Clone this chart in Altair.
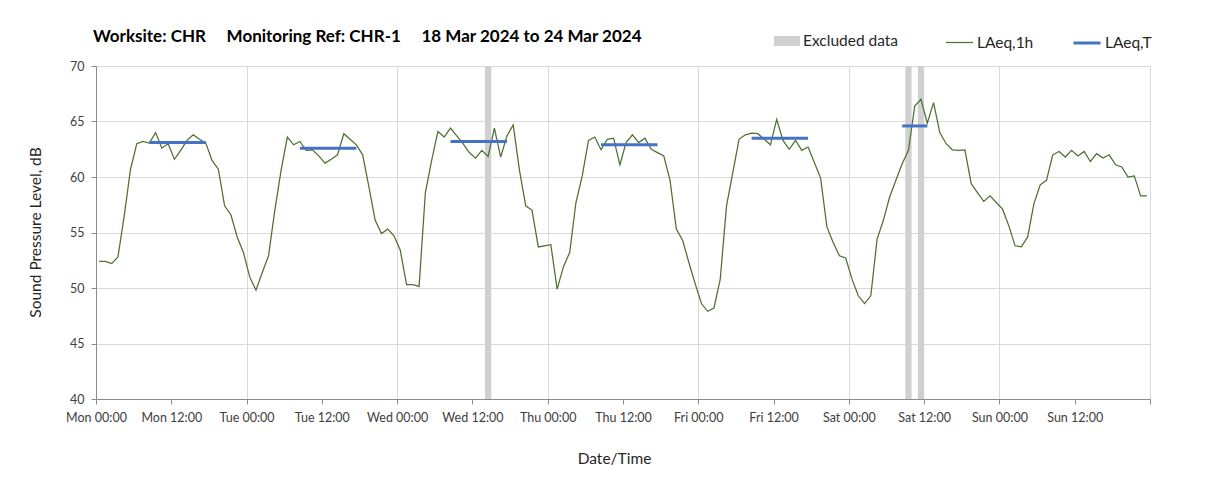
import json
import altair as alt
import pandas as pd

# ---------------- data ----------------
# hourly LAeq,1h values, Mon 18 Mar 2024 00:00 .. Sun 24 Mar 2024 23:00 (168 hours)
LAEQ_1H = [
    # Mon
    52.4, 52.4, 52.2, 52.8, 56.5, 60.7, 63.0, 63.2, 63.05, 64.0, 62.6, 63.0,
    61.6, 62.4, 63.3, 63.8, 63.4, 63.05, 61.5, 60.7, 57.4, 56.6, 54.6, 53.2,
    # Tue
    51.0, 49.8, 51.4, 52.9, 57.0, 60.6, 63.6, 62.9, 63.2, 62.4, 62.45, 61.9,
    61.25, 61.6, 62.0, 63.9, 63.4, 62.9, 62.0, 59.1, 56.1, 54.9, 55.3, 54.7,
    # Wed
    53.4, 50.3, 50.3, 50.15, 58.6, 61.5, 64.1, 63.6, 64.4, 63.7, 63.0, 62.2,
    61.7, 62.4, 61.85, 64.4, 61.8, 63.7, 64.7, 60.6, 57.4, 57.0, 53.7, 53.8,
    # Thu
    53.9, 49.9, 51.9, 53.2, 57.7, 60.1, 63.3, 63.6, 62.45, 63.4, 63.5, 61.1,
    63.1, 63.8, 63.1, 63.5, 62.5, 62.2, 61.9, 59.7, 55.3, 54.3, 52.3, 50.4,
    # Fri
    48.6, 47.9, 48.2, 50.8, 57.4, 60.4, 63.4, 63.8, 63.95, 63.9, 63.4, 62.9,
    65.2, 63.3, 62.5, 63.3, 62.4, 62.7, 61.3, 59.9, 55.5, 54.1, 52.9, 52.7,
    # Sat
    50.8, 49.3, 48.6, 49.3, 54.4, 56.1, 58.2, 59.7, 61.2, 62.4, 66.4, 67.0,
    64.85, 66.7, 64.0, 63.0, 62.45, 62.4, 62.45, 59.4, 58.6, 57.8, 58.3, 57.7,
    # Sun
    57.1, 55.6, 53.8, 53.7, 54.6, 57.6, 59.3, 59.7, 62.0, 62.3, 61.8, 62.4,
    61.9, 62.3, 61.4, 62.1, 61.7, 62.0, 61.1, 60.9, 60.0, 60.1, 58.3, 58.3,
]

# LAeq,T assessment periods (hours from Mon 00:00) and levels
PERIOD_START_H = [8, 32, 56, 80, 104, 128]
PERIOD_END_H = [18, 42, 66, 90, 114, 133]
LAEQ_T = [63.1, 62.6, 63.2, 62.9, 63.5, 64.6]

# excluded hours (start hour from Mon 00:00)
EXCLUDED_H = [62, 129, 131]

TICK_HOURS = list(range(0, 169, 12))
TICK_LABELS = [
    "Mon 00:00", "Mon 12:00", "Tue 00:00", "Tue 12:00", "Wed 00:00", "Wed 12:00",
    "Thu 00:00", "Thu 12:00", "Fri 00:00", "Fri 12:00", "Sat 00:00", "Sat 12:00",
    "Sun 00:00", "Sun 12:00", "",
]
Y_TICKS = [40, 45, 50, 55, 60, 65, 70]

SERIES = ["Excluded data", "LAeq,1h", "LAeq,T"]
COLORS = ["#d0d0d0", "#4e7030", "#4472c4"]

NB = "\u00a0"
TITLE = ("Worksite: CHR" + NB * 5 + "Monitoring Ref: CHR-1" + NB * 5 +
         "18 Mar 2024 to 24 Mar 2024")

# ---------------- tables ----------------
line_df = pd.DataFrame({
    "h": list(range(len(LAEQ_1H))),
    "v": LAEQ_1H,
    "series": SERIES[1],
})
per_df = pd.DataFrame({
    "s": PERIOD_START_H,
    "e": PERIOD_END_H,
    "v": LAEQ_T,
    "series": SERIES[2],
})
exc_df = pd.DataFrame({"h": EXCLUDED_H, "series": SERIES[0]})

FONT = "Lato"
W, H = 1054, 333

xscale = alt.Scale(domain=[0, 168], nice=False, zero=False)
yscale = alt.Scale(domain=[40, 70], nice=False, zero=False)

label_expr = json.dumps(TICK_LABELS) + "[round(datum.value / 12)]"

x_axis = alt.Axis(
    values=TICK_HOURS,
    labelExpr=label_expr,
    title="Date/Time",
    grid=True,
    gridColor="#d9d9d9",
    gridOpacity={"condition": {"test": "datum.value % 24 === 0", "value": 1}, "value": 0},
    tickSize=5,
    tickColor="#8c8c8c",
    domainColor="#8c8c8c",
    labelPadding=7,
    labelFontSize=12.5,
    labelColor="#404040",
    labelFont=FONT,
    labelFlush=False,
    labelOverlap=False,
    titleFont=FONT,
    titleFontSize=15.5,
    titleFontWeight="normal",
    titleColor="#262626",
    titleX=518,
    titleY=64,
    titleBaseline="alphabetic",
    titleAnchor="start",
    titleAlign="center",
)

y_axis = alt.Axis(
    values=Y_TICKS,
    title="Sound Pressure Level, dB",
    grid=True,
    gridColor="#d9d9d9",
    tickSize=5,
    tickColor="#8c8c8c",
    domainColor="#8c8c8c",
    labelPadding=7,
    labelFontSize=12.5,
    labelColor="#404040",
    labelFont=FONT,
    titleFont=FONT,
    titleFontSize=15.5,
    titleFontWeight="normal",
    titleColor="#262626",
    titleX=-61,
    titleY=166,
    titleAngle=270,
    titleAlign="center",
    titleBaseline="middle",
)

legend_common = dict(
    title=None,
    orient="none",
    labelFont=FONT,
    labelFontSize=15.5,
    labelColor="#262626",
    labelOffset=3,
    padding=0,
)

excl = alt.Chart(exc_df).transform_calculate(h2="datum.h + 1").mark_rect(
    opacity=1
).encode(
    x=alt.X("h:Q", scale=xscale, axis=x_axis),
    x2="h2:Q",
    y=alt.YDatum(70, scale=yscale, axis=y_axis),
    y2=alt.Y2Datum(40),
    fill=alt.Fill(
        "series:N",
        scale=alt.Scale(domain=[SERIES[0]], range=[COLORS[0]]),
        legend=alt.Legend(
            legendX=678, legendY=-38,
            symbolType="M-1,-0.385H1V0.385H-1Z",
            symbolSize=676,
            symbolStrokeWidth=0,
            symbolOpacity=1,
            **legend_common,
        ),
    ),
)

line = alt.Chart(line_df).transform_calculate(x="datum.h + 0.5").mark_line(
    strokeWidth=1.25
).encode(
    x=alt.X("x:Q", scale=xscale, axis=x_axis),
    y=alt.Y("v:Q", scale=yscale, axis=y_axis),
    stroke=alt.Stroke(
        "series:N",
        scale=alt.Scale(domain=[SERIES[1]], range=[COLORS[1]]),
        legend=alt.Legend(
            legendX=849, legendY=-38,
            symbolType="stroke",
            symbolSize=729,
            symbolStrokeWidth=1.25,
            **legend_common,
        ),
    ),
)

periods = alt.Chart(per_df).transform_calculate(
    xs="datum.s + 0.5", xe="datum.e - 0.5"
).mark_rule(strokeWidth=3).encode(
    x=alt.X("xs:Q", scale=xscale, axis=x_axis),
    x2="xe:Q",
    y=alt.Y("v:Q", scale=yscale, axis=y_axis),
    color=alt.Color(
        "series:N",
        scale=alt.Scale(domain=[SERIES[2]], range=[COLORS[2]]),
        legend=alt.Legend(
            legendX=976, legendY=-38,
            symbolType="stroke",
            symbolSize=729,
            symbolStrokeWidth=3,
            **legend_common,
        ),
    ),
)

chart = alt.layer(excl, line, periods).properties(
    width=W,
    height=H,
    autosize=alt.AutoSizeParams(type="none"),
    padding={"left": 88, "top": 58, "right": 40, "bottom": 80},
    title=alt.TitleParams(
        TITLE,
        anchor="start",
        frame="group",
        font=FONT,
        fontSize=17,
        fontWeight="bold",
        color="#000000",
        dx=-3,
        offset=-31,
        baseline="alphabetic",
    ),
).resolve_scale(
    fill="independent", stroke="independent", color="independent"
).configure_view(
    stroke="#a6a6a6",
    strokeWidth=1,
).configure(
    background="white",
    font=FONT,
)

chart.save("out.html", embed_options={"renderer": "svg", "actions": False})
